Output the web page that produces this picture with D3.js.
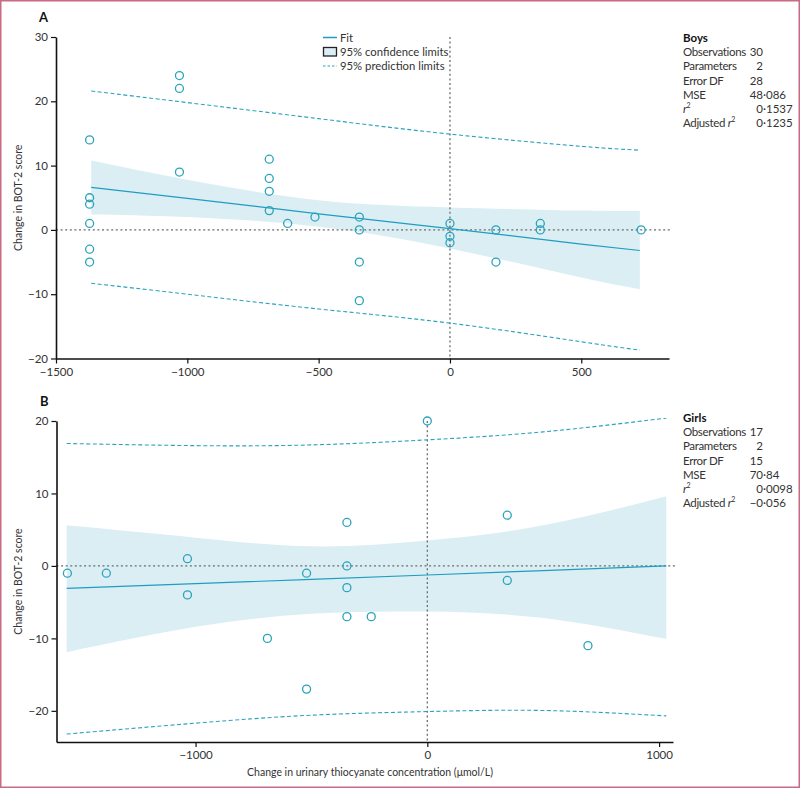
<!DOCTYPE html>
<html>
<head>
<meta charset="utf-8">
<script src="https://cdn.jsdelivr.net/npm/d3@7"></script>
<style>
  body { margin: 0; background: #fff; }
  svg { display: block; font-family: Lato, "Open Sans", sans-serif; }
</style>
</head>
<body>
<div id="chart"></div>
<script>
// Boys (panel A) observed points
const boysX = [-1372, -1372, -1372, -1372, -1372, -1372, -1030, -1030, -1030, -688, -688, -688, -688,
  -618, -514, -345, -345, -345, -345, 0, 0, 0, 175, 175, 344, 344, 728];
const boysY = [14, 5, 4, 1, -3, -5, 24, 22, 9, 11, 8, 6, 3,
  1, 2, 2, 0, -5, -11, 1, -1, -2, 0, -5, 1, 0, 0];

// Boys fit, confidence and prediction limits
const boysLineX = [-1366, -1000, -500, 0, 500, 723];
const boysFit = [6.6, 4.9, 2.5, 0.2, -2.2, -3.2];
const boysCIUpper = [10.8, 7.8, 4.6, 3.5, 3.0, 2.95];
const boysCILower = [2.4, 2.0, 0.5, -2.9, -7.4, -9.2];
const boysPLUpper = [21.6, 19.8, 17.3, 14.9, 13.0, 12.4];
const boysPLLower = [-8.3, -10.0, -12.3, -14.5, -17.4, -18.7];

// Girls (panel B) observed points
const girlsX = [-1553, -1385, -1035, -1035, -690, -521, -521, -347, -347, -347, -347, -242, 0, 345, 345, 693];
const girlsY = [-1, -1, 1, -4, -10, -1, -17, 6, 0, -3, -7, -7, 20, 7, -2, -11];

const girlsLineX = [-1556, -1000, -500, 0, 500, 1031];
const girlsFit = [-3.1, -2.45, -1.85, -1.25, -0.65, 0];
const girlsCIUpper = [5.6, 3.9, 2.7, 3.5, 5.6, 9.6];
const girlsCILower = [-11.9, -8.4, -6.6, -6.3, -7.2, -10.1];
const girlsPLUpper = [16.9, 16.6, 16.7, 17.4, 18.5, 20.4];
const girlsPLLower = [-23.2, -21.7, -20.6, -20.1, -19.95, -20.7];

// Tick labels
const boysXTicks = [-1500, -1000, -500, 0, 500];
const boysYTicks = [-20, -10, 0, 10, 20, 30];
const girlsXTicks = [-1000, 0, 1000];
const girlsYTicks = [-20, -10, 0, 10, 20];

// Fit statistics
const statLabels = ["Observations", "Parameters", "Error DF", "MSE", "r2", "Adjusted r2"];
const boysStats = ["30", "2", "28", "48·086", "0·1537", "0·1235"];
const girlsStats = ["17", "2", "15", "70·84", "0·0098", "−0·056"];

const W = 800, H = 788;
const teal = "#1e9dc2";
const ring = "#2aa3bb";
const band = "#dbeef4";
const fmt = d3.format("");

const svg = d3.select("#chart").append("svg")
  .attr("width", W).attr("height", H);

svg.append("rect")
  .attr("x", 0.75).attr("y", 0.75)
  .attr("width", W - 1.5).attr("height", H - 1.5)
  .attr("fill", "none").attr("stroke", "#c96a84").attr("stroke-width", 1.5);

function panel(cfg) {
  const x = d3.scaleLinear().domain(cfg.xDomain).range(cfg.xRange);
  const y = d3.scaleLinear().domain(cfg.yDomain).range(cfg.yRange);
  const g = svg.append("g");

  const rows = cfg.lineX.map((v, i) => ({
    x: v, fit: cfg.fit[i], lo: cfg.ciLo[i], hi: cfg.ciHi[i], plLo: cfg.plLo[i], plHi: cfg.plHi[i]
  }));

  // confidence band
  g.append("path")
    .datum(rows)
    .attr("fill", band)
    .attr("d", d3.area().curve(d3.curveNatural)
      .x(d => x(d.x)).y0(d => y(d.lo)).y1(d => y(d.hi)));

  // reference lines at zero
  g.append("line")
    .attr("x1", cfg.xRange[0]).attr("x2", cfg.xRange[1] + 3)
    .attr("y1", y(0)).attr("y2", y(0))
    .attr("stroke", "#6b6b6b").attr("stroke-width", 1.3).attr("stroke-dasharray", "2,2.6");
  g.append("line")
    .attr("x1", x(0)).attr("x2", x(0))
    .attr("y1", cfg.yRange[1]).attr("y2", cfg.yRange[0])
    .attr("stroke", "#6b6b6b").attr("stroke-width", 1.3).attr("stroke-dasharray", "2,2.6");

  // prediction limits
  ["plLo", "plHi"].forEach(k => {
    g.append("path")
      .datum(rows)
      .attr("fill", "none")
      .attr("stroke", ring).attr("stroke-width", 1.1).attr("stroke-dasharray", "4,2.5")
      .attr("d", d3.line().curve(d3.curveNatural).x(d => x(d.x)).y(d => y(d[k])));
  });

  // fit
  g.append("path")
    .datum(rows)
    .attr("fill", "none")
    .attr("stroke", teal).attr("stroke-width", 1.2)
    .attr("d", d3.line().x(d => x(d.x)).y(d => y(d.fit)));

  // points
  g.selectAll(".pt")
    .data(cfg.px.map((v, i) => [v, cfg.py[i]]))
    .enter().append("circle")
    .attr("cx", d => x(d[0])).attr("cy", d => y(d[1]))
    .attr("r", 4)
    .attr("fill", "none").attr("stroke", ring).attr("stroke-width", 1.3);

  // axes
  const ya = g.append("g")
    .attr("transform", `translate(${cfg.xRange[0]},0)`)
    .call(d3.axisLeft(y).tickValues(cfg.yTicks).tickSize(5).tickSizeOuter(0).tickFormat(fmt));
  const xa = g.append("g")
    .attr("transform", `translate(0,${cfg.yRange[0]})`)
    .call(d3.axisBottom(x).tickValues(cfg.xTicks).tickSize(5).tickSizeOuter(0).tickFormat(fmt));
  [ya, xa].forEach(a => {
    a.select(".domain").attr("stroke", "#111").attr("stroke-width", 1.6);
    a.selectAll(".tick line").attr("stroke", "#111").attr("stroke-width", 1.2);
    a.selectAll("text").attr("font-size", 11.5).attr("fill", "#333")
      .style("font-family", "Lato, 'Open Sans', sans-serif");
  });
  xa.selectAll("text").attr("y", 9).attr("dy", "0.71em");
  ya.selectAll("text").attr("x", -8);

  // panel letter
  g.append("text")
    .attr("x", cfg.letterPos[0]).attr("y", cfg.letterPos[1])
    .attr("font-size", 13).attr("font-weight", "bold").attr("fill", "#111")
    .text(cfg.letter);

  // y label
  const ym = (cfg.yRange[0] + cfg.yRange[1]) / 2;
  g.append("text")
    .attr("transform", `translate(22,${ym}) rotate(-90)`)
    .attr("text-anchor", "middle")
    .attr("font-size", 10.5).attr("fill", "#333")
    .text("Change in BOT-2 score");

  // stats box
  const sx = 683, dec = 763;
  const s = g.append("g").attr("font-size", 11.5).attr("fill", "#333");
  s.append("text").attr("x", sx).attr("y", cfg.statY)
    .attr("font-weight", "bold").attr("fill", "#111").text(cfg.title);
  statLabels.forEach((lab, i) => {
    const yy = cfg.statY + 14.2 * (i + 1);
    const t = s.append("text").attr("x", sx).attr("y", yy).attr("letter-spacing", -0.35);
    if (lab.endsWith("r2")) {
      t.append("tspan").text(lab.slice(0, -2));
      t.append("tspan").attr("font-style", "italic").text("r");
      t.append("tspan").attr("font-size", 7).attr("dy", -5).text("2");
    } else {
      t.text(lab);
    }
    const parts = cfg.stats[i].split("·");
    s.append("text").attr("x", dec).attr("y", yy).attr("text-anchor", "end").text(parts[0]);
    if (parts.length > 1) {
      s.append("text").attr("x", dec).attr("y", yy).text("·" + parts[1]);
    }
  });
  return g;
}

panel({
  letter: "A", letterPos: [39, 22], title: "Boys", statY: 42, stats: boysStats,
  xDomain: [-1500, 834], xRange: [56, 669],
  yDomain: [-20, 30], yRange: [358.5, 37],
  xTicks: boysXTicks, yTicks: boysYTicks,
  px: boysX, py: boysY,
  lineX: boysLineX, fit: boysFit, ciLo: boysCILower, ciHi: boysCIUpper, plLo: boysPLLower, plHi: boysPLUpper
});

panel({
  letter: "B", letterPos: [40, 406], title: "Girls", statY: 422, stats: girlsStats,
  xDomain: [-1600, 1060], xRange: [56.5, 673],
  yDomain: [-24.3, 20], yRange: [742, 421],
  xTicks: girlsXTicks, yTicks: girlsYTicks,
  px: girlsX, py: girlsY,
  lineX: girlsLineX, fit: girlsFit, ciLo: girlsCILower, ciHi: girlsCIUpper, plLo: girlsPLLower, plHi: girlsPLUpper
});

// legend in panel A
const lg = svg.append("g").attr("font-size", 11.3).attr("fill", "#333");
lg.append("line").attr("x1", 323).attr("x2", 337).attr("y1", 37.5).attr("y2", 37.5)
  .attr("stroke", teal).attr("stroke-width", 1.5);
lg.append("text").attr("x", 340).attr("y", 41.5).text("Fit");
lg.append("rect").attr("x", 323.5).attr("y", 47.5).attr("width", 13).attr("height", 8.5)
  .attr("fill", band).attr("stroke", "#222").attr("stroke-width", 1.3);
lg.append("text").attr("x", 340).attr("y", 56).text("95% confidence limits");
lg.append("line").attr("x1", 323).attr("x2", 337).attr("y1", 66).attr("y2", 66)
  .attr("stroke", ring).attr("stroke-width", 1.1).attr("stroke-dasharray", "2.5,2");
lg.append("text").attr("x", 340).attr("y", 70).text("95% prediction limits");

// shared x label
svg.append("text")
  .attr("x", 370).attr("y", 776)
  .attr("text-anchor", "middle")
  .attr("font-size", 10.5).attr("fill", "#333")
  .text("Change in urinary thiocyanate concentration (μmol/L)");
</script>
</body>
</html>
